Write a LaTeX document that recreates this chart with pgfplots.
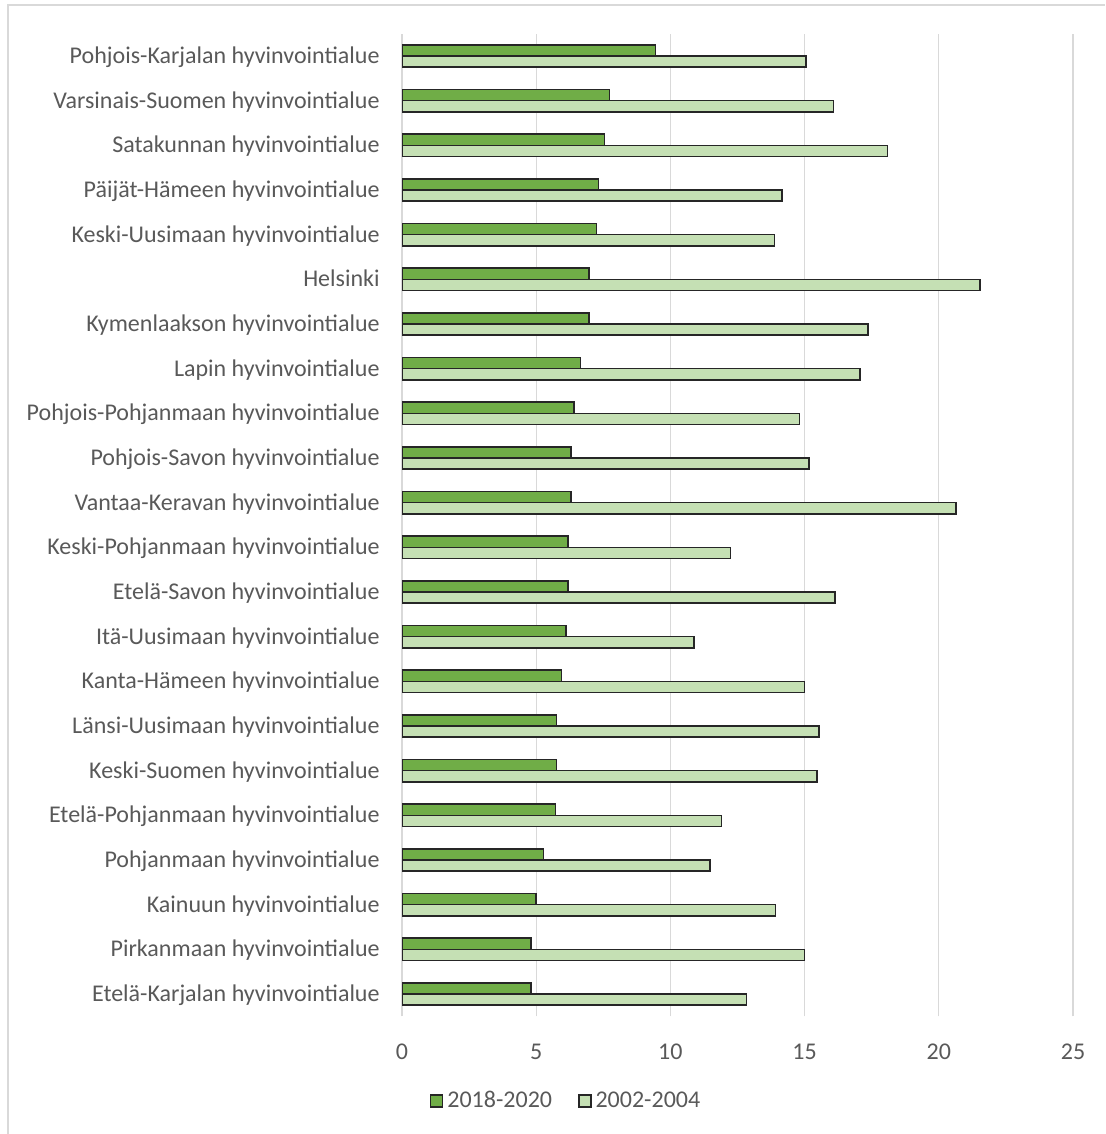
\documentclass[border=0pt]{standalone}
\usepackage{fontspec}
\setmainfont{Carlito}
\usepackage{pgfplots}
\pgfplotsset{compat=1.18}
\definecolor{darkg}{HTML}{70AD47}
\definecolor{lightg}{HTML}{C5E0B4}
\definecolor{txt}{HTML}{595959}
\definecolor{gridc}{HTML}{D9D9D9}
\definecolor{edge}{HTML}{262626}
\begin{document}
\begin{tikzpicture}
\path[use as bounding box] (0,0) rectangle (552.5pt,567pt);
\draw[gridc, line width=0.6pt] (4pt,0) -- (4pt,564.5pt) -- (552.5pt,564.5pt);
\begin{axis}[
  at={(201pt,58.85pt)}, anchor=south west,
  scale only axis, width=335.5pt, height=491.3pt,
  xbar,
  xmin=0, xmax=25, ymin=-0.5, ymax=21.5,
  xtick={0,5,...,25},
  ytick={0,...,21},
  yticklabels={Etelä-Karjalan hyvinvointialue, Pirkanmaan hyvinvointialue, Kainuun hyvinvointialue, Pohjanmaan hyvinvointialue, Etelä-Pohjanmaan hyvinvointialue, Keski-Suomen hyvinvointialue, Länsi-Uusimaan hyvinvointialue, Kanta-Hämeen hyvinvointialue, Itä-Uusimaan hyvinvointialue, Etelä-Savon hyvinvointialue, Keski-Pohjanmaan hyvinvointialue, Vantaa-Keravan hyvinvointialue, Pohjois-Savon hyvinvointialue, Pohjois-Pohjanmaan hyvinvointialue, Lapin hyvinvointialue, Kymenlaakson hyvinvointialue, Helsinki, Keski-Uusimaan hyvinvointialue, Päijät-Hämeen hyvinvointialue, Satakunnan hyvinvointialue, Varsinais-Suomen hyvinvointialue, Pohjois-Karjalan hyvinvointialue},
  axis line style={draw=none},
  tick style={draw=none},
  major tick length=0pt,
  xmajorgrids,
  major grid style={gridc, line width=0.6pt},
  ticklabel style={font=\fontsize{12}{14}\selectfont, text=txt},
  /pgf/number format/assume math mode=true,
  yticklabel style={anchor=east, inner sep=0pt, xshift=-11pt, yshift=-1.3pt, text height=1.5ex, text depth=0.45ex},
  xticklabel style={anchor=north, inner sep=0pt, yshift=-13.5pt},
  legend style={at={(0.246,-0.086)}, anchor=center, draw=none, fill=none,
    legend columns=2, font=\fontsize{12}{14}\selectfont, text=txt,
    /tikz/every even column/.append style={column sep=11pt},
    legend cell align=left},
  legend image code/.code={\draw[#1] (0pt,-3pt) rectangle (6pt,3pt);},
]
\addplot[fill=darkg, draw=edge, line width=0.75pt, bar width=5.6pt, bar shift=2.8pt] coordinates {
(4.81,0) (4.81,1) (4.99,2) (5.28,3) (5.71,4) (5.76,5) (5.76,6) (5.94,7) (6.11,8) (6.18,9) (6.18,10)
(6.30,11) (6.30,12) (6.41,13) (6.65,14) (6.96,15) (6.96,16) (7.25,17) (7.32,18) (7.55,19) (7.73,20) (9.45,21)};
\addlegendentry{2018-2020}
\addplot[fill=lightg, draw=edge, line width=0.75pt, bar width=5.6pt, bar shift=-2.8pt] coordinates {
(12.84,0) (14.99,1) (13.92,2) (11.47,3) (11.90,4) (15.47,5) (15.53,6) (14.99,7) (10.88,8) (16.13,9) (12.24,10)
(20.64,11) (15.17,12) (14.81,13) (17.07,14) (17.37,15) (21.54,16) (13.87,17) (14.15,18) (18.09,19) (16.07,20) (15.05,21)};
\addlegendentry{2002-2004}
\end{axis}
\end{tikzpicture}
\end{document}
